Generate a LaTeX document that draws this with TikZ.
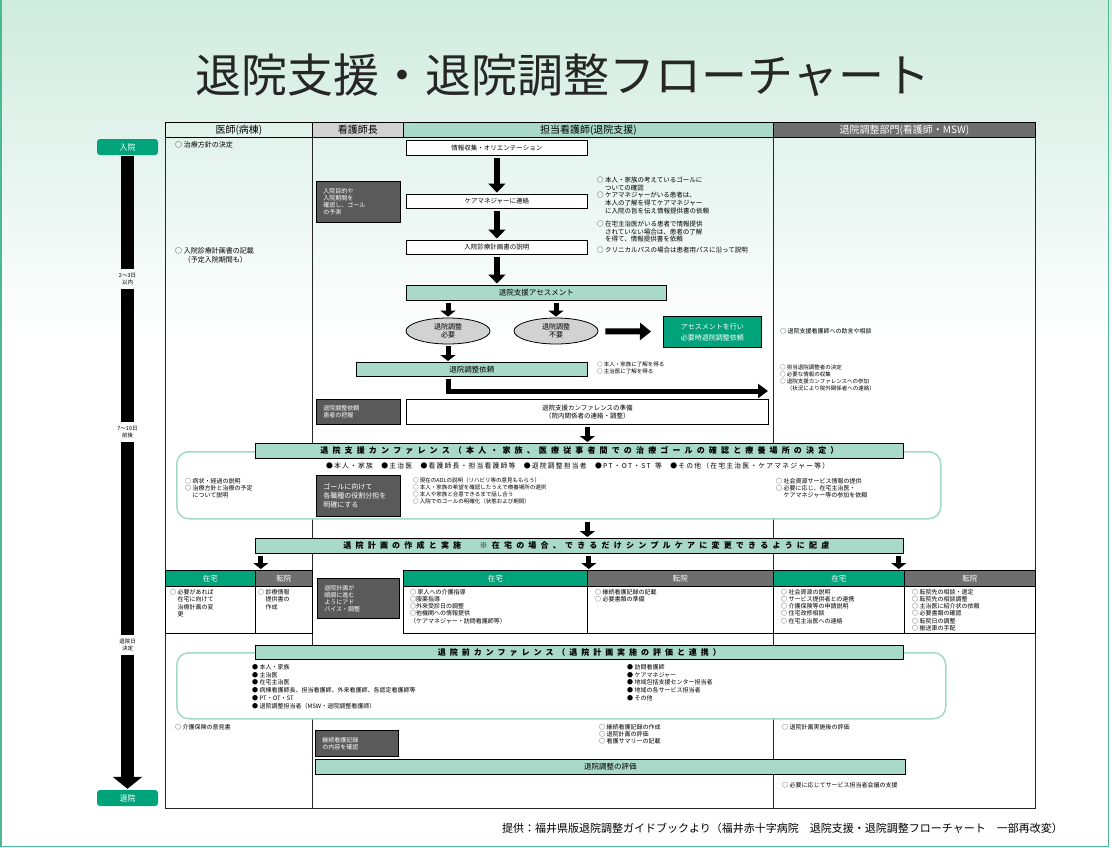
\documentclass[tikz,border=0pt]{standalone}
\usepackage{fontspec}
\setmainfont{Noto Sans CJK JP}
\usetikzlibrary{arrows.meta,shapes.geometric,calc}
\definecolor{mint}{HTML}{A9D9C9}
\definecolor{bggreen}{HTML}{CFEBE0}
\definecolor{hgreen}{HTML}{00A37A}
\definecolor{hgray}{HTML}{6E6E6E}
\definecolor{lgray}{HTML}{D2D2D2}
\definecolor{dkfill}{HTML}{5A5A5A}
\definecolor{rborder}{HTML}{A3D9C8}
\definecolor{edgegreen}{HTML}{4DB896}
\ExplSyntaxOn
\NewDocumentCommand\spreadto{m m}
 {\makebox[#1][s]{\tl_map_inline:nn{#2}{##1\hspace{0pt~plus~1fil}}\unskip}}
\ExplSyntaxOff
\newcommand\fsz[2]{\fontsize{#1}{#2}\selectfont}
\newcommand\ind{\hphantom{○ }}
\begin{document}
\begin{tikzpicture}[x=1pt,y=-1pt,
 frame/.style={line width=1pt, draw=black!85},
 hdr/.style={draw, line width=0.8pt, anchor=north west, inner sep=0pt, minimum height=15pt, font=\fsz{10}{11}},
 wbox/.style={draw, line width=0.8pt, fill=white, anchor=north west, inner sep=0pt, font=\fsz{6.5}{8}},
 mbox/.style={draw, line width=0.8pt, fill=mint, anchor=north west, inner sep=0pt, font=\fsz{7.5}{9}},
 dkbox/.style={draw, line width=0.8pt, fill=dkfill, text=white, anchor=north west, align=left, inner xsep=7pt, inner ysep=0pt, font=\fsz{6}{7}},
 gbox/.style={draw, line width=0.8pt, fill=hgreen, text=white, anchor=north west, align=center, inner sep=0pt, font=\fsz{7}{11}},
 ell/.style={ellipse, draw, line width=0.8pt, fill=lgray, minimum width=84pt, minimum height=26pt, inner sep=0pt, align=center, font=\fsz{7}{8.5}},
 rbox/.style={draw=rborder, line width=1.5pt, fill=white, rounded corners=12pt, anchor=north west, inner sep=0pt},
 cellh/.style={draw, line width=0.8pt, anchor=north west, text=white, minimum height=16pt, inner sep=0pt, font=\fsz{7.5}{8}},
 cellb/.style={draw, line width=0.8pt, anchor=north west, minimum height=47pt, inner sep=0pt},
 txt/.style={anchor=north west, inner sep=0pt, align=left, font=\fsz{6.5}{7.6}},
 stxt/.style={anchor=north west, inner sep=0pt, align=left, font=\fsz{6}{7.2}},
 xstxt/.style={anchor=north west, inner sep=0pt, align=left, font=\fsz{5.5}{6.8}},
 tlbox/.style={fill=hgreen, text=white, rounded corners=3pt, minimum width=61pt, minimum height=16pt, inner sep=0pt, font=\fsz{8}{9}},
 tlab/.style={inner sep=3pt, align=center, font=\fsz{5.5}{7.5}},
 tbar/.style={line width=13pt, shorten <=1pt, shorten >=1pt},
 bigarrow/.style={line width=6pt, -{Triangle[width=17pt,length=9pt]}, shorten <=2pt, shorten >=1.5pt},
 smarrow/.style={line width=5pt, -{Triangle[width=15pt,length=6pt]}, shorten <=2pt, shorten >=1pt},
 elbowarrow/.style={line width=5pt, -{Triangle[width=14pt,length=10pt]}, shorten <=2pt},
 bantext/.style={font=\fsz{8}{9}\bfseries}
]
\useasboundingbox (0,0) rectangle (1112,847);
\fill[white] (0,0) rectangle (1112,847);
\shade[top color=bggreen, bottom color=white] (0,0) rectangle (1112,340);
\draw[edgegreen, line width=1.5pt] (0.75,0) -- (0.75,846.25) -- (1108.5,846.25) -- (1108.5,0);

% title
\node[font=\fsz{46}{50}, text=black!85] (title) at (563,75) {退院支援・退院調整フローチャート};

% frame
\draw[frame] (165,122) rectangle (1035,808);
\draw[frame] (312,137) -- (312,808);
\draw[frame] (773,137) -- (773,808);

% conference outlines
\node[rbox, minimum width=764pt, minimum height=67pt] (conf1) at (176,451) {};
\node[rbox, minimum width=769pt, minimum height=66pt] (conf2) at (176,652) {};

% column headers
\node[hdr, minimum width=147pt] (hd1) at (165,122) {医師(病棟)};
\node[hdr, fill=lgray, minimum width=91pt] (hd2) at (312,122) {看護師長};
\node[hdr, fill=mint, minimum width=370pt] (hd3) at (403,122) {担当看護師(退院支援)};
\node[hdr, fill=hgray, text=white, minimum width=262pt] (hd4) at (773,122) {退院調整部門(看護師・MSW)};

% timeline
\node[tlbox] (adm) at (127.5,147) {入院};
\node[tlab] (lab1) at (127.5,279) {2～3日\\以内};
\node[tlab] (lab2) at (127.5,432) {7～10日\\前後};
\node[tlab] (lab3) at (127.5,645) {退院日\\決定};
\node[tlbox] (dis) at (127.5,798) {退院};
\draw[tbar] (adm.south) -- (lab1.north);
\draw[tbar] (lab1.south) -- (lab2.north);
\draw[tbar] (lab2.south) -- (lab3.north);
\draw[tbar, -{Triangle[width=29pt,length=12pt]}] (lab3.south) -- (dis.north);

% doctor column
\node[txt, font=\fsz{7}{9}] (d1) at (175,141) {○ 治療方針の決定};
\node[txt, font=\fsz{7}{9}] (d2) at (175,247) {○ 入院診療計画書の記載\\\ind（予定入院期間も）};

% main flow
\node[wbox, minimum width=181pt, minimum height=15pt] (info) at (406,140) {情報収集・オリエンテーション};
\node[wbox, minimum width=181pt, minimum height=14pt] (care) at (406,194) {ケアマネジャーに連絡};
\node[wbox, minimum width=181pt, minimum height=14pt] (expl) at (406,240) {入院診療計画書の説明};
\node[mbox, minimum width=260pt, minimum height=15pt] (asmt) at (406,285) {退院支援アセスメント};
\draw[bigarrow] (info) -- (care);
\draw[bigarrow] (care) -- (expl);
\draw[bigarrow] (expl.south) -- (expl.south |- asmt.north);

\node[dkbox, text width=70pt, minimum height=41pt] (dk1) at (316,181) {入院目的や\\入院期間を\\確認し、ゴール\\の予測};

\node[txt] (r1) at (597,177) {○ 本人・家族の考えているゴールに\\\ind ついての確認\\○ ケアマネジャーがいる患者は、\\\ind 本人の了解を得てケアマネジャー\\\ind に入院の旨を伝え情報提供書の依頼};
\node[txt] (r2) at (597,221) {○ 在宅主治医がいる患者で情報提供\\\ind されていない場合は、患者の了解\\\ind を得て、情報提供書を依頼};
\node[txt] (r3) at (597,247) {○ クリニカルパスの場合は患者用パスに沿って説明};

\node[ell] (need) at (448,331) {退院調整\\必要};
\node[ell] (noneed) at (556,331) {退院調整\\不要};
\draw[smarrow] (asmt.south -| need) -- (need);
\draw[smarrow] (asmt.south -| noneed) -- (noneed);
\node[gbox, minimum width=98pt, minimum height=31pt] (gr) at (663,316) {アセスメントを行い\\必要時退院調整依頼};
\draw[bigarrow, -{Triangle[width=17pt,length=11pt]}, shorten <=7pt, shorten >=12pt] (noneed) -- (gr);

\node[mbox, minimum width=231pt, minimum height=14pt] (irai) at (356,362) {退院調整依頼};
\draw[smarrow] (need) -- (need |- irai.north);
\node[xstxt] (r4) at (597,362) {○ 本人・家族に了解を得る\\○ 主治医に了解を得る};
\coordinate (elbowend) at (768,391);
\draw[elbowarrow] (irai.south -| need) |- (elbowend);

\node[dkbox, text width=70pt, minimum height=25pt] (dk2) at (316,399) {退院調整依頼\\患者の把握};
\node[wbox, align=center, minimum width=362pt, minimum height=25pt] (prep) at (406,399) {退院支援カンファレンスの準備\\（院内関係者の連絡・調整）};

% MSW column
\node[stxt] (m1) at (780,328) {○ 退院支援看護師への助言や相談};
\node[xstxt] (m2) at (780,365) {○ 担当退院調整者の決定\\○ 必要な情報の収集\\○ 退院支援カンファレンスへの参加\\\ind（状況により院外関係者への連絡）};

% conference 1
\node[mbox, minimum width=648pt, minimum height=15pt, bantext] (ban1) at (255,443) {\spreadto{518pt}{退院支援カンファレンス（本人・家族、医療従事者間での治療ゴールの確認と療養場所の決定）}};
\draw[smarrow] (prep.south) -- (prep.south |- ban1.north);
\node[anchor=west, inner sep=0pt, font=\fsz{6.8}{7}] (parts) at (326,466) {\spreadto{503pt}{●本人・家族{\hspace{6pt}}●主治医{\hspace{6pt}}●看護師長・担当看護師等{\hspace{6pt}}●退院調整担当者{\hspace{6pt}}●PT・OT・ST{\hspace{2pt}}等{\hspace{6pt}}●その他（在宅主治医・ケアマネジャー等）}};
\node[stxt] (c1l) at (185,478) {○ 病状・経過の説明\\○ 治療方針と治療の予定\\\ind について説明};
\node[dkbox, text width=70pt, minimum height=41pt, font=\fsz{7}{9}] (dk3) at (316,475) {ゴールに向けて\\各職種の役割分担を\\明確にする};
\node[xstxt] (c1m) at (413,478) {○ 現在のADLの説明（リハビリ等の意見ももらう）\\○ 本人・家族の希望を確認したうえで療養場所の選択\\○ 本人や家族と合意できるまで話し合う\\○ 入院でのゴールの明確化（状態および期間）};
\node[stxt] (c1r) at (776,478) {○ 社会資源サービス情報の提供\\○ 必要に応じ、在宅主治医・\\\ind ケアマネジャー等の参加を依頼};

% discharge plan
\node[mbox, minimum width=648pt, minimum height=15pt, bantext] (ban2) at (255,538) {\hspace*{14pt}\spreadto{486pt}{退院計画の作成と実施{\hspace{10pt}}※在宅の場合、できるだけシンプルケアに変更できるように配慮}};
\draw[smarrow] (conf1.south -| prep.south) -- (ban2.north -| prep.south);

\node[cellh, fill=hgreen, minimum width=90pt] (zh1) at (165,570) {在宅};
\node[cellh, fill=hgray, minimum width=57pt] (th1) at (255,570) {転院};
\node[cellh, fill=hgreen, minimum width=184pt] (zh2) at (403,570) {在宅};
\node[cellh, fill=hgray, minimum width=186pt] (th2) at (587,570) {転院};
\node[cellh, fill=hgreen, minimum width=131pt] (zh3) at (773,570) {在宅};
\node[cellh, fill=hgray, minimum width=131pt] (th3) at (904,570) {転院};
\node[cellb, minimum width=90pt] (zc1) at (165,586) {};
\node[cellb, minimum width=57pt] (tc1) at (255,586) {};
\node[cellb, minimum width=184pt] (zc2) at (403,586) {};
\node[cellb, minimum width=186pt] (tc2) at (587,586) {};
\node[cellb, minimum width=131pt] (zc3) at (773,586) {};
\node[cellb, minimum width=131pt] (tc3) at (904,586) {};

\coordinate (p1) at ($(zh1.north east)+(5,0)$);
\coordinate (p2) at ($(zh2.north east)+(1,0)$);
\coordinate (p3) at ($(zh3.north east)+(-6,0)$);
\draw[smarrow] (p1 |- ban2.south) -- (p1);
\draw[smarrow] (p2 |- ban2.south) -- (p2);
\draw[smarrow] (p3 |- ban2.south) -- (p3);

\node[stxt, font=\fsz{6}{7.5}] (zt1) at (170,589) {○ 必要があれば\\\ind 在宅に向けて\\\ind 治療計画の変\\\ind 更};
\node[stxt, font=\fsz{6}{7.5}] (tt1) at (258,589) {○ 診療情報\\\ind 提供書の\\\ind 作成};
\node[dkbox, text width=68pt, minimum height=40pt] (dk4) at (317,578) {退院計画が\\順調に進む\\ようにアド\\バイス・調整};
\node[stxt] (zt2) at (410,589) {○ 家人への介護指導\\○服薬指導\\○外来受診日の調整\\○他機関への情報提供\\（ケアマネジャー・訪問看護師等）};
\node[stxt] (tt2) at (595,589) {○ 継続看護記録の記載\\○ 必要書類の準備};
\node[stxt] (zt3) at (781,589) {○ 社会資源の説明\\○ サービス提供者との連携\\○ 介護保険等の申請説明\\○ 住宅改修相談\\○ 在宅主治医への連絡};
\node[stxt] (tt3) at (912,589) {○ 転院先の相談・選定\\○ 転院先の相談調整\\○ 主治医に紹介状の依頼\\○ 必要書類の確認\\○ 転院日の調整\\○ 搬送車の手配};

% conference 2
\node[mbox, minimum width=648pt, minimum height=14pt, bantext] (ban3) at (255,645) {\spreadto{283pt}{退院前カンファレンス（退院計画実施の評価と連携）}};
\node[stxt, font=\fsz{6}{7.8}] (b1) at (252,664) {● 本人・家族\\● 主治医\\● 在宅主治医\\● 病棟看護師長、担当看護師、外来看護師、各認定看護師等\\● PT・OT・ST\\● 退院調整担当者（MSW・退院調整看護師）};
\node[stxt, font=\fsz{6}{7.8}] (b2) at (627,664) {● 訪問看護師\\● ケアマネジャー\\● 地域包括支援センター担当者\\● 地域の各サービス担当者\\● その他};

\node[stxt] (e1) at (175,724) {○ 介護保険の意見書};
\node[dkbox, text width=69pt, minimum height=26pt] (dk5) at (315,730) {継続看護記録\\の内容を確認};
\node[stxt] (e2) at (599,724) {○ 継続看護記録の作成\\○ 退院計画の評価\\○ 看護サマリーの記載};
\node[stxt] (e3) at (782,724) {○ 退院計画実施後の評価};
\node[mbox, minimum width=590pt, minimum height=15pt] (evalb) at (315,759) {退院調整の評価};
\node[stxt] (e4) at (782,782) {○ 必要に応じてサービス担当者会議の支援};

% source
\node[anchor=west, inner sep=0pt, font=\fsz{11}{12}] (src) at (502,828) {提供：福井県版退院調整ガイドブックより（福井赤十字病院　退院支援・退院調整フローチャート　一部再改変）};
\end{tikzpicture}
\end{document}
